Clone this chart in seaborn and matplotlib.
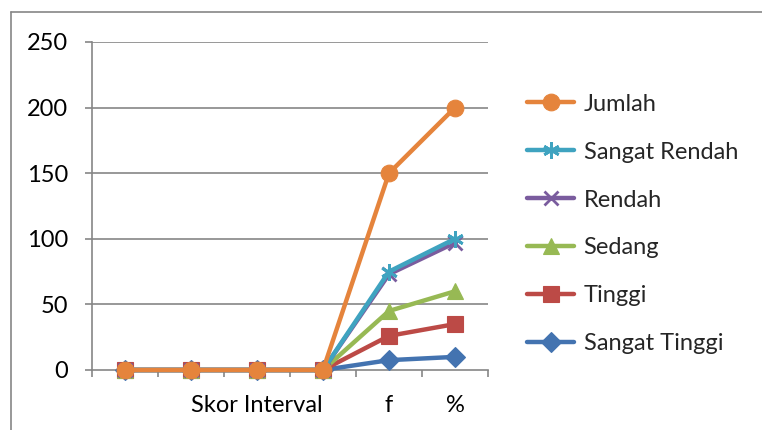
import matplotlib
matplotlib.use("Agg")
import matplotlib.pyplot as plt
from matplotlib.lines import Line2D
import seaborn as sns
import pandas as pd
import numpy as np

categories = ["", "", "Skor Interval", "", "f", "%"]
series_names = ["Jumlah", "Sangat Rendah", "Rendah", "Sedang", "Tinggi", "Sangat Tinggi"]
jumlah = [0, 0, 0, 0, 150, 200]
sangat_rendah = [0, 0, 0, 0, 75, 100]
rendah = [0, 0, 0, 0, 73, 97]
sedang = [0, 0, 0, 0, 45, 60]
tinggi = [0, 0, 0, 0, 26, 35]
sangat_tinggi = [0, 0, 0, 0, 7.5, 10]
y_ticks = [0, 50, 100, 150, 200, 250]

values = {
    "Jumlah": jumlah,
    "Sangat Rendah": sangat_rendah,
    "Rendah": rendah,
    "Sedang": sedang,
    "Tinggi": tinggi,
    "Sangat Tinggi": sangat_tinggi,
}
colors = {
    "Jumlah": "#E5843C",
    "Sangat Rendah": "#3FA3C0",
    "Rendah": "#7A5C9E",
    "Sedang": "#97B954",
    "Tinggi": "#BC4A46",
    "Sangat Tinggi": "#4373B0",
}
markers = {
    "Jumlah": "o",
    "Sangat Rendah": (6, 2, 0),
    "Rendah": "x",
    "Sedang": "^",
    "Tinggi": "s",
    "Sangat Tinggi": "D",
}
msizes = {
    "Jumlah": 12,
    "Sangat Rendah": 12,
    "Rendah": 10,
    "Sedang": 12,
    "Tinggi": 11,
    "Sangat Tinggi": 10,
}

sns.set_theme(style="white")
plt.rcParams["font.family"] = ["Lato", "DejaVu Sans"]
FS = 17

fig = plt.figure(figsize=(7.62, 4.30), dpi=100)
ax = fig.add_axes([92 / 762, 1 - 370 / 430, (488 - 92) / 762, (370 - 42) / 430])

x_pos = np.arange(len(categories))
handles = {}
for name in reversed(series_names):
    df = pd.DataFrame({"x": x_pos, "y": values[name]})
    m = markers[name]
    filled = m not in ("x",) and not isinstance(m, tuple)
    sns.lineplot(data=df, x="x", y="y", ax=ax, color=colors[name], linewidth=3.2,
                 marker=m, markersize=msizes[name],
                 markeredgecolor=colors[name],
                 markeredgewidth=2 if not filled else 0.8,
                 sort=False, legend=False, zorder=3, clip_on=False)
    handles[name] = Line2D([0], [0], color=colors[name], linewidth=3.2, marker=m,
                           markersize=msizes[name], markeredgecolor=colors[name],
                           markeredgewidth=2 if not filled else 0.8)

ax.set_xlim(-0.5, len(categories) - 0.5)
ax.set_ylim(0, 250)
ax.set_yticks(y_ticks)
ax.set_yticklabels([str(v) for v in y_ticks])
ax.set_xticks(x_pos)
ax.set_xticklabels(categories)
ax.set_xticks(np.arange(-0.5, len(categories), 1.0), minor=True)
ax.set_xlabel("")
ax.set_ylabel("")

grid_col = "#868686"
for v in y_ticks[1:]:
    ax.axhline(v, color=grid_col, linewidth=1.2, zorder=1)
for side in ["top", "right"]:
    ax.spines[side].set_visible(False)
for side in ["left", "bottom"]:
    ax.spines[side].set_color(grid_col)
    ax.spines[side].set_linewidth(1.2)
    ax.spines[side].set_zorder(2)

ax.tick_params(axis="y", which="major", direction="out", length=5, width=1.2,
               color=grid_col, left=True, pad=12, labelsize=FS, labelcolor="black")
ax.tick_params(axis="x", which="major", length=0, pad=18, labelsize=FS, labelcolor="black")
ax.tick_params(axis="x", which="minor", direction="out", length=5, width=1.2,
               color=grid_col, bottom=True)

leg = fig.legend([handles[n] for n in series_names], series_names,
                 loc="center left", bbox_to_anchor=(527 / 762, 1 - 224 / 430),
                 frameon=False, fontsize=FS, handlelength=2.0, handletextpad=0.4,
                 labelspacing=1.14, borderpad=0, borderaxespad=0)

# outer chart border (top and left)
fig.add_artist(Line2D([11 / 762, 11 / 762], [0, 1 - 12 / 430], color=grid_col,
                      linewidth=1.2, transform=fig.transFigure))
fig.add_artist(Line2D([11 / 762, 1], [1 - 12 / 430, 1 - 12 / 430], color=grid_col,
                      linewidth=1.2, transform=fig.transFigure))

fig.savefig("out.png", dpi=100)
